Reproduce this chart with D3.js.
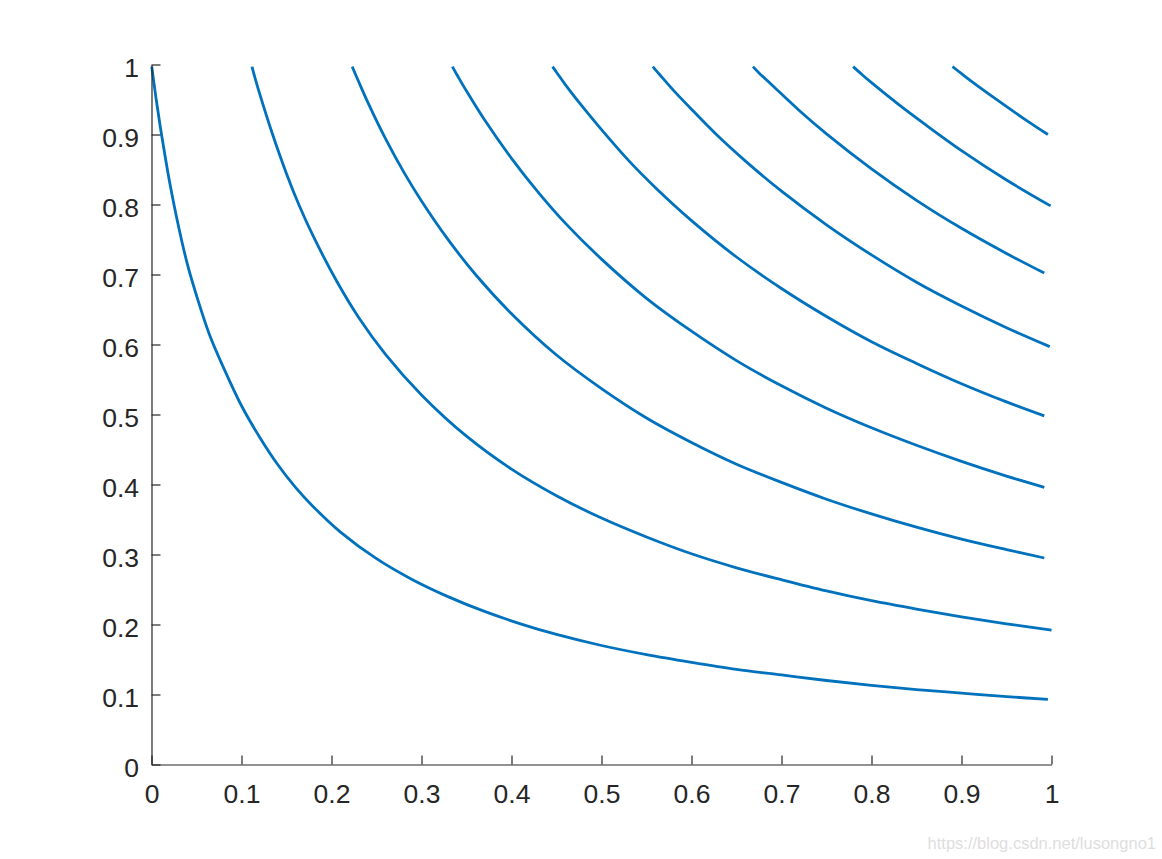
<!DOCTYPE html>
<html>
<head>
<meta charset="utf-8">
<script src="https://cdn.jsdelivr.net/npm/d3@7/dist/d3.min.js"></script>
<style>
  html, body { margin: 0; padding: 0; background: #ffffff; }
  svg { display: block; }
  .axis text { font-family: "Liberation Sans", Arial, Helvetica, sans-serif; font-size: 26.5px; fill: #262626; }
  .axis path, .axis line { stroke: #262626; stroke-width: 1.2; }
</style>
</head>
<body>
<svg id="chart" width="1162" height="859"></svg>
<script>
// ---- data ----
const tickValues = [0, 0.1, 0.2, 0.3, 0.4, 0.5, 0.6, 0.7, 0.8, 0.9, 1];
const tickLabels = ["0", "0.1", "0.2", "0.3", "0.4", "0.5", "0.6", "0.7", "0.8", "0.9", "1"];

const curve1 = [[0.0003,0.997],[0.005,0.952],[0.01,0.909],[0.015,0.87],[0.02,0.833],[0.03,0.769],[0.04,0.714],[0.05,0.67],[0.065,0.612],[0.08,0.567],[0.1,0.5125],[0.12,0.468],[0.14,0.429],[0.16,0.396],[0.18,0.368],[0.21,0.332],[0.25,0.294],[0.29,0.264],[0.33,0.2395],[0.37,0.2187],[0.41,0.201],[0.45,0.1858],[0.5,0.17],[0.55,0.157],[0.6,0.146],[0.65,0.136],[0.7,0.128],[0.75,0.12],[0.8,0.113],[0.85,0.107],[0.9,0.102],[0.95,0.097],[0.996,0.093]];
const curve2 = [[0.1116,0.997],[0.115,0.981],[0.12,0.959],[0.133,0.906],[0.15,0.844],[0.164,0.799],[0.18,0.754],[0.206,0.69],[0.23,0.639],[0.26,0.586],[0.3,0.528],[0.35,0.469],[0.4,0.422],[0.45,0.384],[0.5,0.352],[0.55,0.325],[0.6,0.301],[0.65,0.281],[0.7,0.264],[0.75,0.248],[0.8,0.234],[0.85,0.222],[0.9,0.211],[0.95,0.201],[1.0,0.192]];
const curve3 = [[0.223,0.997],[0.23,0.976],[0.24,0.947],[0.26,0.894],[0.28,0.847],[0.3,0.805],[0.33,0.749],[0.36,0.7],[0.4,0.644],[0.45,0.585],[0.5,0.537],[0.55,0.495],[0.6,0.46],[0.65,0.429],[0.7,0.403],[0.75,0.379],[0.8,0.358],[0.85,0.339],[0.9,0.322],[0.95,0.307],[0.992,0.295]];
const curve4 = [[0.3343,0.997],[0.34,0.984],[0.35,0.962],[0.37,0.921],[0.4,0.866],[0.43,0.817],[0.46,0.773],[0.5,0.722],[0.55,0.666],[0.6,0.619],[0.65,0.577],[0.7,0.541],[0.75,0.509],[0.8,0.481],[0.85,0.456],[0.9,0.433],[0.95,0.412],[0.992,0.396]];
const curve5 = [[0.4456,0.997],[0.45,0.989],[0.46,0.971],[0.48,0.938],[0.5,0.907],[0.53,0.863],[0.56,0.824],[0.6,0.777],[0.65,0.725],[0.7,0.68],[0.75,0.64],[0.8,0.604],[0.85,0.573],[0.9,0.544],[0.95,0.518],[0.992,0.498]];
const curve6 = [[0.557,0.997],[0.565,0.985],[0.58,0.963],[0.6,0.936],[0.63,0.897],[0.66,0.862],[0.7,0.819],[0.75,0.771],[0.8,0.728],[0.85,0.689],[0.9,0.655],[0.95,0.624],[0.998,0.597]];
const curve7 = [[0.6683,0.997],[0.675,0.988],[0.69,0.97],[0.72,0.934],[0.75,0.901],[0.8,0.851],[0.85,0.806],[0.9,0.766],[0.95,0.73],[0.992,0.702]];
const curve8 = [[0.7796,0.997],[0.79,0.985],[0.8,0.974],[0.83,0.943],[0.86,0.914],[0.9,0.877],[0.95,0.835],[0.999,0.798]];
const curve9 = [[0.89,0.997],[0.9,0.987],[0.91,0.977],[0.94,0.949],[0.97,0.922],[0.996,0.9]];

const series = [curve1, curve2, curve3, curve4, curve5, curve6, curve7, curve8, curve9];

// ---- layout ----
const W = 1162, H = 859;
const margin = { left: 151.5, top: 64.5, right: W - 1051.5, bottom: H - 764.5 };
const svg = d3.select("#chart");

const x = d3.scaleLinear().domain([0, 1]).range([margin.left, W - margin.right]);
const y = d3.scaleLinear().domain([0, 1]).range([H - margin.bottom, margin.top]);

// curves
const line = d3.line()
  .x(d => x(d[0]))
  .y(d => y(d[1]))
  .curve(d3.curveCatmullRom.alpha(0.5));

svg.append("g")
  .selectAll("path")
  .data(series)
  .join("path")
  .attr("d", line)
  .attr("fill", "none")
  .attr("stroke", "#0072BD")
  .attr("stroke-width", 2.8)
  .attr("stroke-linecap", "butt")
  .attr("stroke-linejoin", "round");

// axes
const xAxis = d3.axisBottom(x)
  .tickValues(tickValues)
  .tickFormat((d, i) => tickLabels[i])
  .tickSizeInner(-9)
  .tickSizeOuter(0)
  .tickPadding(20);

const yAxis = d3.axisLeft(y)
  .tickValues(tickValues)
  .tickFormat((d, i) => tickLabels[i])
  .tickSizeInner(-9)
  .tickSizeOuter(0)
  .tickPadding(12.5);

svg.append("g")
  .attr("class", "axis")
  .attr("transform", `translate(0,${H - margin.bottom})`)
  .call(xAxis);

const gy = svg.append("g")
  .attr("class", "axis")
  .attr("transform", `translate(${margin.left},0)`)
  .call(yAxis);
gy.selectAll("text").attr("dy", "0.47em");

// watermark
svg.append("text")
  .attr("x", 1156)
  .attr("y", 849)
  .attr("text-anchor", "end")
  .attr("font-family", "\"Liberation Sans\", Arial, sans-serif")
  .attr("font-size", 16.5)
  .attr("fill", "#dedede")
  .text("https://blog.csdn.net/lusongno1");
</script>
</body>
</html>
